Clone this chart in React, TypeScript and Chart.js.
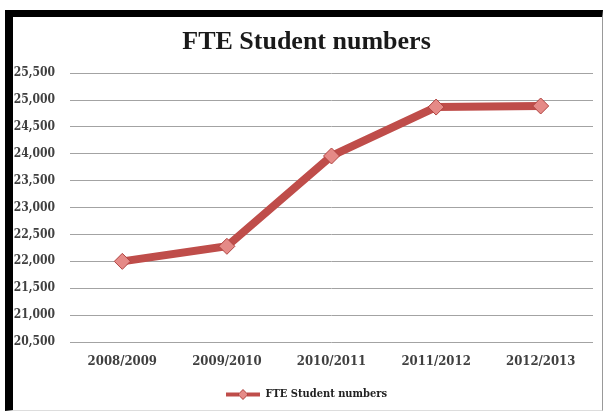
import React, { useEffect, useRef } from "react";
import { Chart, registerables } from "chart.js";

Chart.register(...registerables);

const categories = ["2008/2009", "2009/2010", "2010/2011", "2011/2012", "2012/2013"];
const fteValues = [22000, 22280, 23960, 24870, 24890];
const seriesName = "FTE Student numbers";
const chartTitle = "FTE Student numbers";
const yMin = 20500;
const yMax = 25500;
const yStep = 500;

const LINE_COLOR = "#BF4D4A";
const POINT_FILL = "#E58A87";
const POINT_BORDER = "#B04441";

function makeLegendSample(): HTMLCanvasElement {
  const c = document.createElement("canvas");
  c.width = 34;
  c.height = 12;
  const ctx = c.getContext("2d")!;
  ctx.strokeStyle = LINE_COLOR;
  ctx.lineWidth = 4;
  ctx.beginPath();
  ctx.moveTo(0, 6);
  ctx.lineTo(34, 6);
  ctx.stroke();
  ctx.fillStyle = POINT_FILL;
  ctx.strokeStyle = POINT_BORDER;
  ctx.lineWidth = 1;
  ctx.beginPath();
  ctx.moveTo(17 - 5, 6);
  ctx.lineTo(17, 1);
  ctx.lineTo(17 + 5, 6);
  ctx.lineTo(17, 11);
  ctx.closePath();
  ctx.fill();
  ctx.stroke();
  return c;
}

export default function App() {
  const ref = useRef<HTMLCanvasElement | null>(null);

  useEffect(() => {
    if (!ref.current) return;
    const sample = makeLegendSample();
    const chart = new Chart(ref.current, {
      type: "line",
      data: {
        labels: categories,
        datasets: [
          {
            label: seriesName,
            data: fteValues,
            borderColor: LINE_COLOR,
            backgroundColor: POINT_FILL,
            borderWidth: 8,
            pointStyle: "rectRot",
            pointRadius: 8,
            pointBackgroundColor: POINT_FILL,
            pointBorderColor: POINT_BORDER,
            pointBorderWidth: 1,
            tension: 0,
            fill: false,
          },
        ],
      },
      options: {
        animation: false,
        responsive: false,
        devicePixelRatio: 1,
        layout: { padding: { left: 0, right: 2, top: 0, bottom: 0 } },
        plugins: {
          title: {
            display: true,
            text: chartTitle,
            color: "#1a1a1a",
            font: { family: "'Liberation Serif', serif", size: 26, weight: "bold" },
            padding: { top: 10, bottom: 15 },
          },
          legend: {
            display: true,
            position: "bottom",
            labels: {
              usePointStyle: true,
              pointStyleWidth: 34,
              padding: 10,
              color: "#222",
              font: { family: "'DejaVu Serif Condensed', 'DejaVu Serif', serif", size: 11, weight: "bold" },
              generateLabels: (ch: any) => {
                const base = Chart.defaults.plugins.legend.labels.generateLabels(ch);
                return base.map((l: any) => ({ ...l, pointStyle: sample }));
              },
            },
          },
          tooltip: { enabled: false },
        },
        scales: {
          x: {
            offset: true,
            grid: { display: false, drawTicks: false },
            border: { display: false },
            ticks: {
              padding: 12,
              color: "#404040",
              font: { family: "'DejaVu Serif Condensed', 'DejaVu Serif', serif", size: 13, weight: "bold" },
              maxRotation: 0,
            },
            afterFit: (scale: any) => {
              scale.height = 37;
            },
          },
          y: {
            min: yMin,
            max: yMax,
            grid: { color: "#a3a3a3", lineWidth: 1, drawTicks: false },
            border: { display: false },
            ticks: {
              stepSize: yStep,
              padding: 15,
              color: "#404040",
              font: { family: "'DejaVu Serif Condensed', 'DejaVu Serif', serif", size: 12, weight: "bold" },
            },
            afterFit: (scale: any) => {
              scale.width = 57;
            },
          },
        },
      },
    });
    return () => chart.destroy();
  }, []);

  return (
    <div style={{ position: "absolute", left: 0, top: 0, width: 605, height: 411, background: "#fff" }}>
      <div
        style={{
          position: "absolute",
          left: 5,
          top: 10,
          width: 598,
          height: 401,
          boxSizing: "border-box",
          borderTop: "7px solid #000",
          borderLeft: "8px solid #000",
          borderRight: "1px solid #999",
          borderBottom: "1px solid #ddd",
          background: "#fff",
        }}
      >
        <canvas ref={ref} width={589} height={393} style={{ position: "absolute", left: 0, top: 0, width: 589, height: 393 }} />
      </div>
    </div>
  );
}
